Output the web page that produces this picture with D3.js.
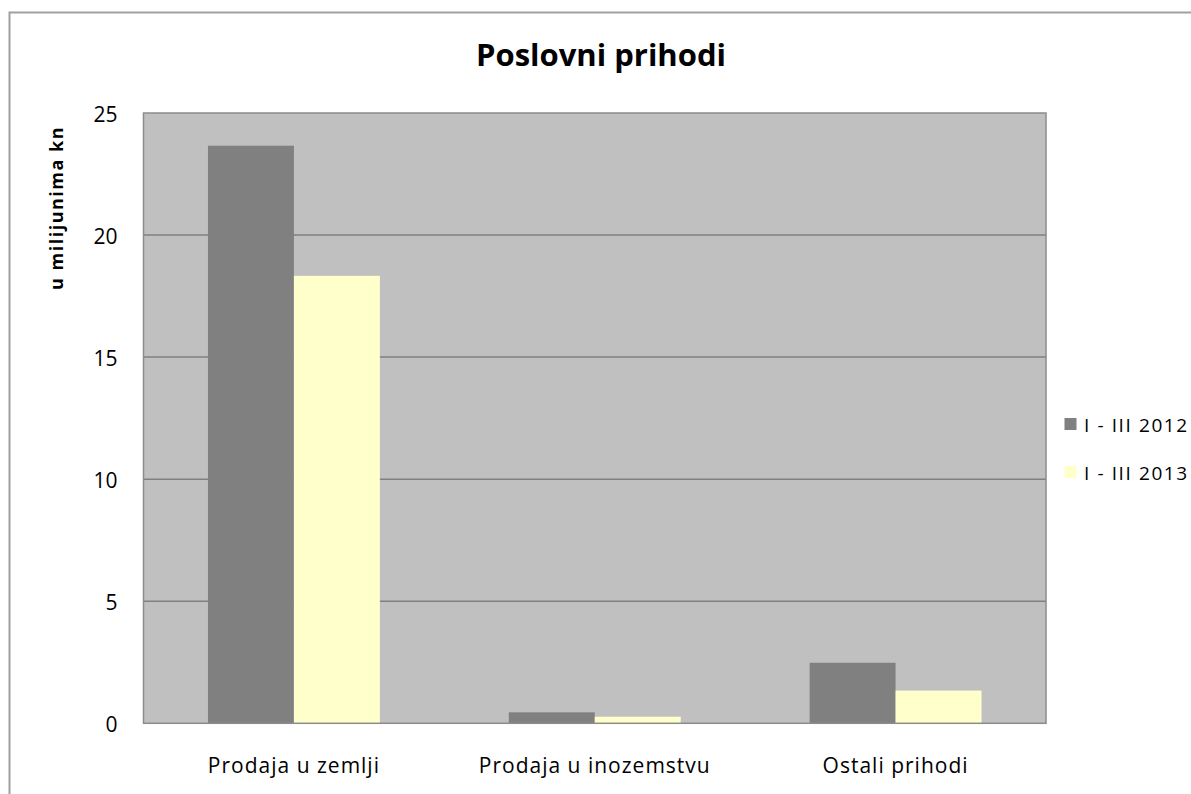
<!DOCTYPE html>
<html>
<head>
<meta charset="utf-8">
<script src="https://cdn.jsdelivr.net/npm/d3@7"></script>
<style>
  html, body { margin: 0; padding: 0; background: #fff; }
  svg { display: block; }
  text { font-family: "Open Sans", "Noto Sans", sans-serif; }
</style>
</head>
<body>
<svg id="chart" width="1191" height="794"></svg>
<script>
const categories = ["Prodaja u zemlji", "Prodaja u inozemstvu", "Ostali prihodi"];
const seriesNames = ["I - III 2012", "I - III 2013"];
const values2012 = [23.66, 0.45, 2.48];
const values2013 = [18.33, 0.27, 1.34];
const yTicks = [0, 5, 10, 15, 20, 25];
const colors = ["#808080", "#FFFFCC"];

const svg = d3.select("#chart");
const W = 1191, H = 794;
const plot = { left: 143.5, top: 113, right: 1046, bottom: 723.3 };

// outer chart border
svg.append("rect")
  .attr("x", 9.5).attr("y", 12.5)
  .attr("width", W + 20).attr("height", H + 20)
  .attr("fill", "#fff").attr("stroke", "#a0a0a0").attr("stroke-width", 2);

const x0 = d3.scaleBand().domain(categories).range([plot.left, plot.right]).paddingInner(0).paddingOuter(0);
const bw = x0.bandwidth() / 3.5; // Excel gap width 150%
const gapOffset = bw * 0.75;
const y = d3.scaleLinear().domain([0, 25]).range([plot.bottom, plot.top]);

// plot background
svg.append("rect")
  .attr("x", plot.left).attr("y", plot.top)
  .attr("width", plot.right - plot.left).attr("height", plot.bottom - plot.top)
  .attr("fill", "#C0C0C0");

// gridlines
svg.append("g").selectAll("line")
  .data(yTicks.filter(d => d > 0 && d < 25))
  .join("line")
  .attr("x1", plot.left).attr("x2", plot.right)
  .attr("y1", d => y(d)).attr("y2", d => y(d))
  .attr("stroke", "#808080").attr("stroke-width", 1.5);

// bars
const series = [values2012, values2013];
const groups = svg.append("g");
series.forEach((vals, si) => {
  groups.selectAll(null)
    .data(categories.map((c, i) => ({ c, v: vals[i] })))
    .join("rect")
    .attr("x", d => x0(d.c) + gapOffset + si * bw)
    .attr("y", d => y(d.v))
    .attr("width", bw)
    .attr("height", d => y(0) - y(d.v))
    .attr("fill", colors[si]);
});

// plot border
svg.append("rect")
  .attr("x", plot.left).attr("y", plot.top)
  .attr("width", plot.right - plot.left).attr("height", plot.bottom - plot.top)
  .attr("fill", "none").attr("stroke", "#8c8c8c").attr("stroke-width", 1.5);

// y axis
const yAxis = d3.axisLeft(y).tickValues(yTicks).tickSize(0).tickPadding(26);
const ya = svg.append("g").attr("transform", `translate(${plot.left},0)`).call(yAxis);
ya.select(".domain").remove();
ya.selectAll("text").attr("font-size", 21).attr("fill", "#000").attr("dy", 8)
  .attr("font-family", "'Open Sans', sans-serif");

// x axis
const xAxis = d3.axisBottom(x0).tickSize(0).tickPadding(50);
const xa = svg.append("g").attr("transform", `translate(0,${plot.bottom})`).call(xAxis);
xa.select(".domain").remove();
xa.selectAll("text").attr("font-size", 21).attr("fill", "#000").attr("dy", 0)
  .attr("letter-spacing", 1)
  .attr("font-family", "'Open Sans', sans-serif");

// title
svg.append("text")
  .attr("x", 601).attr("y", 66)
  .attr("text-anchor", "middle")
  .attr("font-size", 31).attr("font-weight", "bold")
  .text("Poslovni prihodi");

// y axis title
svg.append("text")
  .attr("transform", "translate(63,208) rotate(-90)")
  .attr("text-anchor", "middle")
  .attr("font-size", 18).attr("font-weight", "bold")
  .attr("letter-spacing", 1.5)
  .text("u milijunima  kn");

// legend
const legend = svg.append("g");
seriesNames.forEach((name, i) => {
  const ly = 424 + i * 48;
  legend.append("rect")
    .attr("x", 1064.5).attr("y", ly - 6)
    .attr("width", 12).attr("height", 12)
    .attr("fill", colors[i]);
  legend.append("text")
    .attr("x", 1084).attr("y", ly + 8)
    .attr("font-size", 19)
    .attr("letter-spacing", 1.6)
    .text(name);
});
</script>
</body>
</html>
